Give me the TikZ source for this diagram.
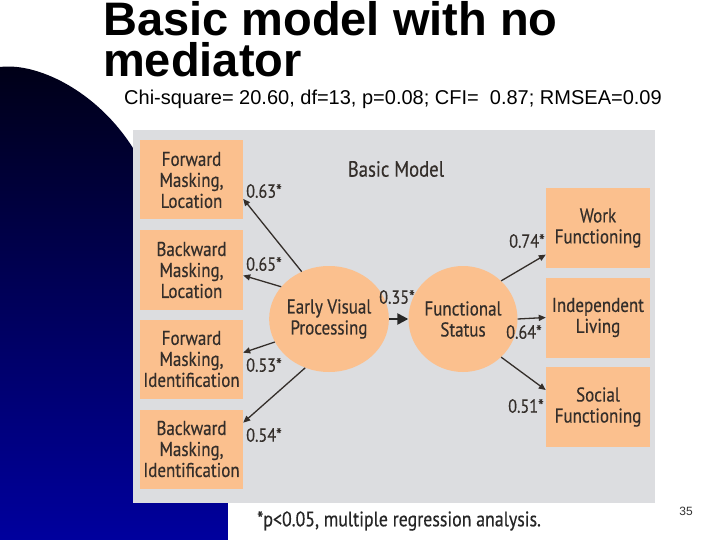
\documentclass[tikz,border=0pt]{standalone}
\usepackage{fontspec}
\setmainfont{Liberation Sans}
\newfontfamily\diagfont[FakeStretch=0.85, FakeBold=0.4]{PT Sans}
\usepackage{tikz}
\usetikzlibrary{shapes.geometric}
\usetikzlibrary{arrows.meta}
\definecolor{boxorange}{RGB}{251,192,142}
\definecolor{panelgray}{RGB}{220,221,224}
\definecolor{inkgray}{RGB}{52,46,42}
\definecolor{slidenavy}{RGB}{0,0,22}
\definecolor{slideblue}{RGB}{0,0,158}
\tikzstyle{measure}=[fill=boxorange, inner sep=0, minimum width=103pt, minimum height=79pt,
                     align=center, text=inkgray, font=\diagfont\fontsize{20}{21}\selectfont]
\tikzstyle{latent}=[measure, ellipse, minimum width=92pt, minimum height=106pt]
\tikzstyle{coef}=[inner sep=0, text=inkgray, font=\diagfont\fontsize{19}{19}\selectfont]
\tikzstyle{loading}=[draw=inkgray, line width=1.3pt, -{Triangle[length=7pt,width=6pt]}]
\tikzstyle{regress}=[draw=black!85, line width=2.4pt, -{Triangle[length=11pt,width=11pt]}]

\begin{document}
\begin{tikzpicture}[x=1pt, y=-1pt]
    \useasboundingbox (0,0) rectangle (720,540);
    \fill[white] (0,0) rectangle (720,540);
    % slide background
    \shade[top color=slidenavy, bottom color=slideblue]
        (0,540) -- (0,67) .. controls (40,62) and (105,95) .. (140,160) -- (228,160) -- (228,540) -- cycle;
    \fill[panelgray] (133,130) rectangle (655,503);

    \node[anchor=north west, inner sep=0, align=left, font=\bfseries\fontsize{47}{41}\selectfont] (title) at (103,1)
        {Basic model with no\\mediator};
    \node[anchor=base west, inner sep=0, font=\fontsize{20}{20}\selectfont] (fit) at (124,105)
        {Chi-square= 20.60, df=13, p=0.08; CFI=\ \ 0.87; RMSEA=0.09};

    \node[coef, font=\diagfont\fontsize{22}{22}\selectfont] (heading) at (396,169) {Basic Model};

    % indicators
    \node[measure] (FML) at (191.5,180) {Forward\\Masking,\\Location};
    \node[measure] (BML) at (191.5,270) {Backward\\Masking,\\Location};
    \node[measure] (FMI) at (191.5,359) {Forward\\Masking,\\Identification};
    \node[measure] (BMI) at (191.5,449) {Backward\\Masking,\\Identification};
    \node[measure, minimum width=104pt, minimum height=80pt] (WF) at (598,228) {Work\\Functioning};
    \node[measure, minimum width=104pt, minimum height=80pt] (IL) at (598,317.5) {Independent\\Living};
    \node[measure, minimum width=104pt, minimum height=80pt] (SF) at (598,407) {Social\\Functioning};

    % latent variables
    \node[latent] (EVP) at (329,319) {Early Visual\\Processing};
    \node[latent] (FS)  at (463,319) {Functional\\Status};

    \draw[loading] (EVP.120) -- (FML.-20);
    \draw[loading] (EVP.146) -- (BML.-6);
    \draw[loading] (EVP.203) -- (FMI.7);
    \draw[loading] (EVP.244) -- (BMI.27);
    \draw[regress] (EVP.east) -- (FS.west);
    \draw[loading] (FS.45) -- (WF.207);
    \draw[loading] (FS.east) -- (IL.west);
    \draw[loading] (FS.-45) -- (SF.162);

    \node[coef] (c63) at (264,191) {0.63*};
    \node[coef] (c65) at (264,264) {0.65*};
    \node[coef] (c53) at (264,365) {0.53*};
    \node[coef] (c54) at (264,435) {0.54*};
    \node[coef] (c35) at (397,297) {0.35*};
    \node[coef] (c74) at (527,241) {0.74*};
    \node[coef] (c64) at (524,332) {0.64*};
    \node[coef] (c51) at (526,406) {0.51*};

    \node[coef, text=black!85, font=\diagfont\fontsize{21}{21}\selectfont] (note) at (399,521) {*p<0.05, multiple regression analysis.};
    \node[inner sep=0, text=black!80, font=\fontsize{12}{12}\selectfont] (page) at (686,511) {35};
\end{tikzpicture}
\end{document}
